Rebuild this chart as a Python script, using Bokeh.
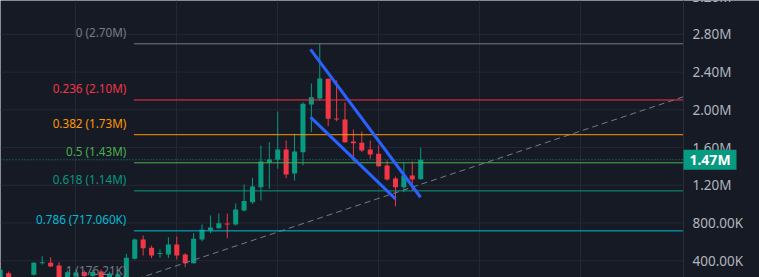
from bokeh.plotting import figure
from bokeh.models import Range1d, FixedTicker, ColumnDataSource
from bokeh.core.properties import value
from bokeh.embed import file_html
from bokeh.resources import INLINE

# ---- candle data (values in millions) ----
opens = [0.190, 0.267, 0.205, 0.185, 0.250, 0.374, 0.378, 0.349, 0.200, 0.232,
         0.280, 0.238, 0.285, 0.210, 0.201, 0.200, 0.420, 0.625, 0.537, 0.471,
         0.466, 0.572, 0.466, 0.374, 0.625, 0.720, 0.745, 0.794, 0.784, 0.932,
         1.020, 1.180, 1.438, 1.470, 1.579, 1.325, 1.551, 2.056, 2.120, 2.329,
         1.908, 1.897, 1.664, 1.650, 1.579, 1.534, 1.410, 1.272, 1.180, 1.304,
         1.264]
highs = [0.317, 0.285, 0.215, 0.218, 0.386, 0.448, 0.437, 0.384, 0.296, 0.307,
         0.296, 0.301, 0.307, 0.285, 0.275, 0.473, 0.635, 0.667, 0.561, 0.519,
         0.649, 0.657, 0.480, 0.692, 0.784, 0.879, 0.900, 0.900, 1.007, 1.208,
         1.279, 1.622, 1.657, 1.982, 1.675, 1.746, 2.081, 2.279, 2.700, 2.332,
         2.311, 2.078, 1.791, 1.770, 1.675, 1.622, 1.463, 1.293, 1.445, 1.452,
         1.600]
lows = [0.185, 0.190, 0.17621, 0.180, 0.243, 0.360, 0.333, 0.190, 0.195, 0.211,
        0.222, 0.222, 0.180, 0.200, 0.195, 0.190, 0.413, 0.455, 0.427, 0.431,
        0.427, 0.413, 0.331, 0.370, 0.604, 0.692, 0.741, 0.639, 0.773, 0.922,
        1.003, 1.038, 1.162, 1.375, 1.275, 1.250, 1.410, 1.763, 2.099, 1.826,
        1.879, 1.650, 1.452, 1.551, 1.481, 1.395, 1.250, 0.978, 1.126, 1.144,
        1.261]
closes = [0.304, 0.200, 0.185, 0.210, 0.378, 0.381, 0.339, 0.200, 0.278, 0.275,
          0.238, 0.280, 0.200, 0.264, 0.257, 0.431, 0.625, 0.532, 0.455, 0.479,
          0.572, 0.455, 0.374, 0.632, 0.728, 0.752, 0.798, 0.786, 0.943, 1.033,
          1.187, 1.452, 1.473, 1.579, 1.314, 1.558, 2.064, 2.134, 2.332, 1.905,
          1.897, 1.657, 1.646, 1.569, 1.526, 1.402, 1.261, 1.180, 1.304, 1.261,
          1.470]

# ---- fibonacci retracement ----
fib_high = 2.70
fib_low = 0.17621
fib_ratios = [0, 0.236, 0.382, 0.5, 0.618, 0.786, 1]
fib_labels = ["0 (2.70M)", "0.236 (2.10M)", "0.382 (1.73M)", "0.5 (1.43M)",
              "0.618 (1.14M)", "0.786 (717.060K)", "1 (176.21K)"]
fib_colors = ["#787b86", "#f23645", "#ff9800", "#4caf50", "#089981", "#00bcd4", "#787b86"]

# ---- price scale ----
price_ticks = [0.4, 0.8, 1.2, 1.6, 2.0, 2.4, 2.8, 3.2]
price_tick_labels = ["400.00K", "800.00K", "1.20M", "1.60M", "2.00M", "2.40M", "2.80M", "3.20M"]
last_price = 1.47
last_price_label = "1.47M"

# ---- drawings (anchor points in bar index / price) ----
channel_upper_x = [36.9, 49.98]
channel_upper_y = [2.640, 1.073]
channel_lower_x = [36.9, 47.0]
channel_lower_y = [1.922, 1.056]
trend_x = [17.48, 81.1]
trend_y = [0.243, 2.134]
fib_start_x = 15.9
fib_label_x = 15.0
time_grid = [9, 21, 33, 45, 57, 69]

BG = "#161a25"
GRID = "#242833"
UP = "#089981"
DOWN = "#f23645"

W, H = 759, 277
PANE_W = 683                      # chart pane width; the price scale sits to the right
PX_PER_BAR = 8.41
X0 = 0.036
X1 = X0 + PANE_W / PX_PER_BAR     # right edge of chart pane (bar units)
XR = X0 + W / PX_PER_BAR          # right edge of canvas (bar units)
Y0, Y1 = 0.2218, 3.1592

p = figure(width=W, height=H, x_range=Range1d(X0, XR), y_range=Range1d(Y0, Y1),
           x_axis_location=None, y_axis_location=None, toolbar_location=None,
           output_backend="svg", min_border=0,
           background_fill_color=BG, border_fill_color=BG, outline_line_color=None)

p.xgrid.ticker = FixedTicker(ticks=time_grid)
p.xgrid.grid_line_color = GRID
p.ygrid.visible = False

# horizontal grid lines inside the chart pane
p.segment(x0=[X0] * len(price_ticks), x1=[X1] * len(price_ticks), y0=price_ticks, y1=price_ticks,
          line_color=GRID, line_width=1)

# candles
n = len(opens)
idx = list(range(n))
px_per_unit = H / (Y1 - Y0)
min_h = 1.0 / px_per_unit
tops, bots, cols = [], [], []
for o, c in zip(opens, closes):
    t, b = max(o, c), min(o, c)
    if t - b < min_h:
        m = (t + b) / 2
        t, b = m + min_h / 2, m - min_h / 2
    tops.append(t)
    bots.append(b)
    cols.append(UP if c >= o else DOWN)
src = ColumnDataSource(dict(x=idx, o=opens, h=highs, l=lows, c=closes, top=tops, bottom=bots, color=cols))
p.segment(x0="x", y0="l", x1="x", y1="h", color="color", line_width=1, source=src)
p.vbar(x="x", width=0.6, top="top", bottom="bottom", fill_color="color", line_color=None, source=src)

# current price dotted line
p.line([X0, X1], [last_price, last_price], line_color=UP, line_width=1, line_dash="1 2")

# trend line (dashed ray)
slope = (trend_y[1] - trend_y[0]) / (trend_x[1] - trend_x[0])
tx = [14.0, X1]
ty = [trend_y[0] + slope * (x - trend_x[0]) for x in tx]
p.line(tx, ty, line_color="#787b86", line_width=1, line_dash="6 4")

# fib levels
fib_prices = [fib_high - r * (fib_high - fib_low) for r in fib_ratios]
for price, col in zip(fib_prices, fib_colors):
    p.line([fib_start_x, X1], [price, price], line_color=col, line_width=1)
fsrc = ColumnDataSource(dict(x=[fib_label_x] * len(fib_prices), y=fib_prices, text=fib_labels, color=fib_colors))
p.text(x="x", y="y", text="text", text_color="color", text_align="right", text_baseline="alphabetic",
       y_offset=-11.5, text_font=value("Noto Sans"), text_font_size="11.7px", source=fsrc)

# falling channel
p.line(channel_upper_x, channel_upper_y, line_color="#2962ff", line_width=3)
p.line(channel_lower_x, channel_lower_y, line_color="#2962ff", line_width=3)

# price scale: border line, tick labels, last price tag
p.line([X1, X1], [Y0 - 1, Y1 + 1], line_color="#2a2e39", line_width=1)
p.text(x=[X1] * len(price_ticks), y=price_ticks, text=price_tick_labels, x_offset=9,
       text_align="left", text_baseline="middle", text_font=value("Noto Sans"),
       text_font_size="13.5px", text_color="#b2b5be")
tag_x = X1 + 26.5 / PX_PER_BAR
p.rect(x=[tag_x], y=[last_price], width=53, height=20, width_units="screen", height_units="screen",
       fill_color=UP, line_color=None)
p.text(x=[tag_x], y=[last_price], text=[last_price_label], text_align="center", text_baseline="middle",
       text_font=value("Noto Sans"), text_font_size="14px", text_font_style="bold", text_color="#ffffff")

open("out.html", "w").write(file_html(p, INLINE))
